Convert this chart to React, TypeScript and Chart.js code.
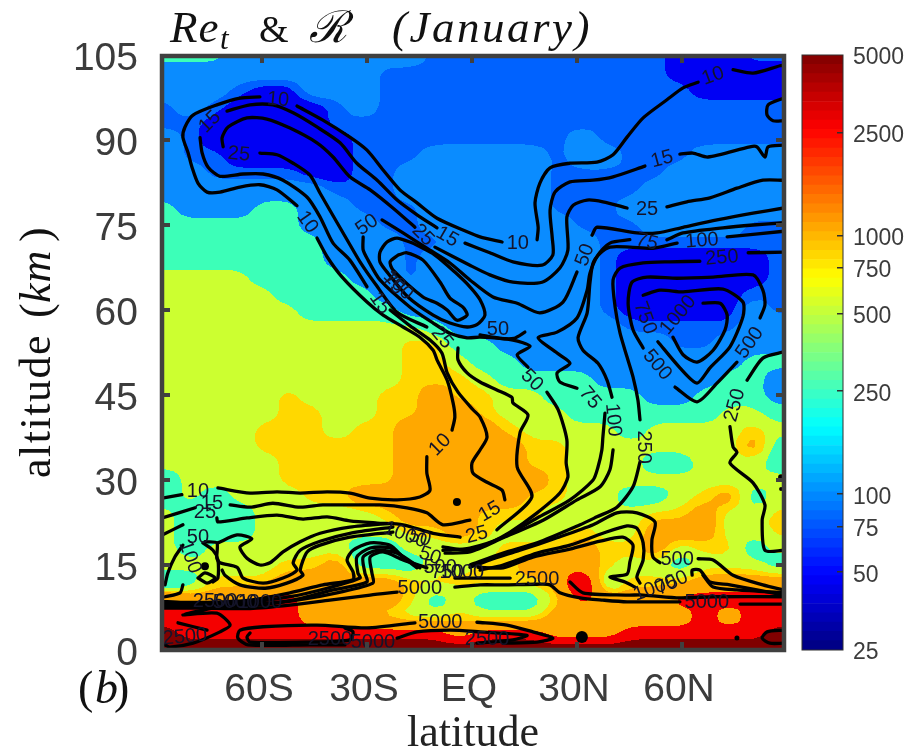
import React, { useEffect, useRef } from "react";
import { Chart, registerables } from "chart.js";
Chart.register(...registerables);

const xTickValues = [-60, -30, 0, 30, 60];
const xTickLabels = ["60S", "30S", "EQ", "30N", "60N"];
const cbTicks = [25, 50, 75, 100, 250, 500, 750, 1000, 2500, 5000];
const bandEdges = [25, 50, 75, 100, 250, 500, 750, 1000, 2500, 5000];
const bandColors = ["#000090", "#0000f4", "#0062ff", "#0a8cff", "#3cffb8", "#ccff30", "#ffd800", "#ffa800", "#f40000", "#800000"];

const gridLats = [-87.5, -80.5, -73.5, -66.5, -59.5, -52.5, -45.5, -38.5, -31.5, -24.5, -17.5, -10.5, -3.5, 3.5, 10.5, 17.5, 24.5, 31.5, 38.5, 45.5, 52.5, 59.5, 66.5, 73.5, 80.5, 87.5];
const gridAlts = [105, 102, 99, 96, 93, 90, 87, 84, 81, 78, 75, 72, 69, 66, 63, 60, 57, 54, 51, 48, 45, 42, 39, 36, 33, 30, 27, 24, 21, 18, 15, 12, 9, 6, 3, 0];
const reField = [
[350,350,350,150,150,150,150,150,150,150,150,85,85,85,85,85,85,85,85,85,85,60,60,60,85,85],
[150,150,150,150,150,150,150,150,150,85,85,85,85,85,85,85,85,85,85,85,85,60,60,60,60,60],
[150,150,150,85,60,60,150,150,150,85,85,85,85,85,85,85,85,85,85,85,85,85,60,60,60,60],
[85,150,85,60,60,60,60,85,150,85,85,85,85,85,85,85,85,85,85,85,85,85,85,85,85,85],
[85,85,60,60,60,60,60,85,85,85,85,85,85,85,85,85,85,85,85,85,85,85,85,85,85,85],
[150,85,60,60,60,60,60,60,85,85,85,85,85,85,85,85,85,150,85,85,85,85,85,85,85,85],
[150,85,85,60,60,60,60,60,85,85,85,150,150,150,150,150,85,150,150,85,85,85,150,150,150,150],
[150,150,85,85,85,85,60,60,85,85,150,150,150,150,150,150,85,85,85,85,85,150,150,150,150,150],
[150,150,150,150,150,150,150,85,85,85,150,150,150,150,150,150,85,85,85,85,150,150,150,150,150,150],
[350,150,150,150,350,350,150,150,85,85,85,150,150,150,150,150,85,85,85,150,150,150,150,150,150,150],
[350,350,350,350,350,350,150,150,150,85,85,150,150,150,150,150,150,85,85,85,150,150,150,150,85,85],
[350,350,350,350,350,350,350,150,150,150,85,85,150,150,150,150,150,150,85,85,85,85,85,85,85,85],
[350,350,350,350,350,350,350,150,150,150,85,150,150,150,150,150,150,150,85,60,60,60,60,60,60,85],
[600,600,600,600,350,350,350,350,150,150,85,150,150,150,150,150,150,150,85,60,60,60,60,60,60,85],
[600,600,600,600,600,350,350,350,350,150,150,150,150,150,150,150,150,150,85,60,60,60,60,60,85,85],
[600,600,600,600,600,600,350,350,350,350,150,150,150,150,150,150,150,150,85,60,60,60,60,60,150,85],
[600,600,600,600,600,600,600,600,600,600,600,350,150,150,150,150,150,150,150,85,85,85,85,85,150,150],
[600,600,600,600,600,600,600,600,600,600,850,850,350,350,150,150,150,150,150,150,150,85,85,150,150,150],
[600,600,600,600,600,600,600,600,600,600,850,850,600,350,350,150,150,150,150,150,150,150,150,150,350,350],
[600,600,600,600,600,600,600,600,600,600,850,850,850,600,350,350,350,350,150,150,150,150,150,350,350,150],
[600,600,600,600,600,850,600,600,600,850,850,1500,850,850,600,600,350,350,350,350,150,150,350,350,350,150],
[600,600,600,600,600,850,850,600,600,850,850,1500,1500,850,600,600,600,350,350,350,350,350,350,600,600,350],
[600,600,600,600,850,850,850,600,850,850,1500,1500,1500,1500,850,600,600,600,600,350,600,600,600,600,850,600],
[600,600,600,600,850,850,850,850,850,850,1500,1500,1500,1500,1500,850,850,600,600,600,600,600,850,600,1500,350],
[600,600,600,600,600,850,850,850,850,850,1500,1500,1500,1500,1500,850,850,600,600,600,350,350,600,600,600,350],
[350,600,600,600,600,850,850,850,850,850,1500,1500,1500,1500,1500,1500,850,600,600,600,600,600,600,600,600,600],
[350,600,350,600,600,600,850,850,1500,1500,1500,1500,1500,1500,1500,850,850,600,600,350,350,600,850,1500,350,600],
[600,350,350,350,600,600,600,600,600,850,1500,1500,1500,850,850,850,600,600,600,600,850,850,1500,600,600,850],
[600,350,350,350,600,600,600,600,600,600,850,850,1500,850,600,600,600,850,600,600,1500,1500,1500,600,600,850],
[600,350,600,600,600,600,600,600,350,350,600,600,600,600,850,850,850,1500,850,850,1500,600,850,850,350,600],
[850,600,600,600,600,850,850,1500,350,350,350,600,600,850,850,1500,1500,1500,850,600,600,350,600,600,600,350],
[150,350,850,850,850,1500,1500,1500,1500,1500,850,850,850,850,850,850,1500,9000,350,850,850,850,1500,1500,1500,1500],
[3500,1500,1500,1500,3500,3500,1500,1500,3500,1500,850,350,600,350,350,350,850,3500,1500,1500,1500,3500,3500,3500,3500,3500],
[3500,3500,3500,3500,3500,3500,1500,1500,850,850,600,600,850,600,600,600,1500,1500,1500,1500,1500,1500,3500,1500,3500,3500],
[6500,3500,3500,3500,3500,3500,3500,3500,3500,3500,3500,3500,1500,3500,3500,3500,1500,1500,1500,3500,3500,3500,3500,3500,3500,6500],
[9000,9000,9000,9000,9000,9000,9000,9000,9000,9000,9000,9000,9000,9000,9000,9000,9000,9000,9000,9000,9000,9000,9000,9000,9000,9000],
];

type P = number[];
const c10a: P[] = [[-60.6,97.6],[-66.3,97.4],[-72.9,96.2],[-79.7,94.4],[-82,92.3],[-82.6,90.5],[-81.1,87.7],[-80,85.2],[-78.3,82.4],[-75.7,80.8],[-72,80.8],[-66.3,81.7],[-60.6,82.1],[-55.7,81.2],[-50,78.4]];
const c10b: P[] = [[-44.3,72.7],[-41.4,69.4],[-37.1,65.8],[-30,61.4],[-25.4,59.1],[-19.7,57],[-14.9,55.2],[-11.1,52.9],[-10,51.2],[-7.1,47.6],[-5.4,43.6],[-4.9,41.1],[-5.7,38.8]];
const c10c: P[] = [[-12.9,34.1],[-12.9,31.2],[-12,28.2],[-14.9,27],[-21.4,26.5],[-29.1,26.8],[-34.9,27.7],[-41.4,27.9],[-49.1,27.7],[-55.7,27.9],[-63.4,27.7],[-72.6,28.6]];
const c10d: P[] = [[-82.9,27.4],[-88.5,26.8]];
const c10e: P[] = [[-50,96],[-42.6,93.5],[-34.9,90.5],[-30,88.2],[-25.4,84.7],[-20.6,81.2],[-15.7,78.9],[-10,76.2],[-1.4,73.8],[2.3,72.9],[8.6,72]];
const c10f: P[] = [[18.6,72.4],[18.9,74.6],[18,78.9],[19.4,82.4],[22.3,85.1],[28,85.9],[35.7,86.1],[40.3,87.4],[44.3,90.5],[48.9,93.9],[55.7,97.1],[60.3,99.2],[64.6,100.2]];
const c10g: P[] = [[74.6,102.4],[80.3,101.8],[88,103.1],[89.1,103.2]];
const c10h: P[] = [[89.1,97.4],[84.6,96.2],[84.3,94.4],[86,93.4],[89.1,93.4]];
const c15a: P[] = [[-70,95.1],[-63.4,96.2],[-56.9,96.2],[-51.1,94.8],[-44.3,92.3],[-37.7,89.5],[-32.9,85.9],[-27.1,82.9],[-21.4,79.4],[-15.7,76.8],[-10,74.5]];
const c15b: P[] = [[-2,71.8],[5.1,70.1],[11.7,68.5],[20,67.9],[23.1,69.7],[22.9,72.9],[22.3,77.6],[23.7,80.8],[28,82.6],[34.6,82.9],[40.3,83.5],[49.4,85.4]];
const c15c: P[] = [[59.4,87.5],[63.1,87.7],[67.4,87],[79.4,88.8],[81.4,88.8],[83.7,87],[84.6,88.8],[89.1,89.1]];
const c15d: P[] = [[-77.7,90.4],[-77.1,87.7],[-75.4,85.2],[-72,83.6],[-65.4,84],[-59.7,84],[-54,82.9],[-47.1,79.9],[-43.4,76.4],[-39.7,71.8],[-34.9,68.8],[-30,64.1]];
const c15e: P[] = [[-23.4,60],[-17.7,57.2],[-12,54.7],[-8.6,52.4],[-7.1,48.9],[-4,45.5],[0.3,42.4],[2.3,41.1],[4.3,37.6],[2.3,35.3],[0,33],[0.3,31.2],[4.3,29.6],[8.6,28.2],[9.4,26.5]];
const c15f: P[] = [[-0.6,22.9],[-8.3,22.1],[-12.9,24.2],[-18.6,25.1],[-26.3,25.6],[-34.9,25.6],[-42.6,25.6],[-49.1,25.2],[-56.9,25.9],[-63.4,25.2],[-69.1,25.6]];
const c15g: P[] = [[-79.1,25.1],[-88.5,23.3]];
const c25a: P[] = [[-71.1,88.8],[-71.4,90.4],[-69.7,92.3],[-64.3,93.9],[-58.6,93.7],[-52,92.1],[-44.3,89.5],[-39.7,87],[-34.9,83.5],[-29.1,81.2],[-22.6,78],[-16.3,74.6]];
const c25b: P[] = [[-10.6,71.1],[-0.6,67.9],[5.1,66.2],[11.7,64.9],[20,64.9],[25.1,67.4],[27.4,70.6],[27.1,76.4],[28.9,78.5],[32.9,79.4],[37.4,79.1],[44.3,78]];
const c25c: P[] = [[55.7,78.2],[61.4,79.1],[68,79.8],[75.7,81.5],[83.1,82.9],[89.1,82.9]];
const c25d: P[] = [[-60.6,87.7],[-55.7,87.4],[-51.1,85.9],[-46.3,83.8],[-43.4,80.6],[-40.6,77.6],[-35.7,72.4],[-32,68.5],[-27.5,64.5],[-21.4,59.6],[-12.9,57]];
const c25e: P[] = [[-4,53.3],[-4,51.2],[-1.4,48.9],[2.3,47.3],[7.1,45.9],[11.4,44.6],[11.7,43.6],[16,41.5],[13.7,38.3],[12.9,32.3],[17.1,27],[7.1,21.2]];
const c25f: P[] = [[-3.4,19.9],[-11.1,20.6],[-19.7,22.1],[-27.1,22.4],[-34.9,22.8],[-41.4,23.5],[-48.3,23.1],[-55.7,23.8],[-64.3,23.3],[-72.6,22.6],[-72.9,23.3]];
const c25g: P[] = [[-82.6,22.1],[-88.5,20.3]];
const c50a: P[] = [[34.3,73.2],[35.7,74.6],[47.1,73.6],[52.9,73.6],[60.3,74.6],[70,75.9],[80.3,77.1],[89.1,78]];
const c50b: P[] = [[-25.7,75.9],[-19.7,73.6],[-12.9,70.9],[-6.3,68.3],[-0.6,65.3],[6,62.3],[12.9,61.2],[19.4,59.5],[26,61.4],[30,66.7]];
const c50c: P[] = [[-31.1,72.9],[-31.1,70.6],[-29.7,68.8],[-26.3,65.3],[-17.7,60.5],[-11.1,57.7],[-6.3,55.9],[-1.4,55.1],[2.3,55.2],[11.7,54.7],[16.6,53.6],[12.9,52.1],[16,49.9]];
const c50d: P[] = [[2.3,55.6],[8,55],[12,55],[15.1,56.1]];
const c50e: P[] = [[21.4,45.5],[24.6,42.4],[27.1,37.1],[26.9,33],[27.4,30.5],[25.1,27.7],[18.6,24.2],[10.9,20.8],[5.1,18.9],[-0.6,17.6],[-8.3,18.2]];
const c50f: P[] = [[-22.6,22.4],[-34.9,21.7],[-43.4,20.6],[-49.1,19.1],[-54,17.3],[-57.7,15.4],[-60.6,15],[-64.3,16.2],[-66.3,18.2],[-62.9,19.6],[-67.1,20.3],[-72.6,18.9]];
const c50g: P[] = [[-82.6,18.5],[-84.9,16.4],[-86.9,13.6],[-87.7,11.5]];
const c75a: P[] = [[45.1,72.4],[39.4,71.8],[36,69.7],[33.7,66.5],[32.9,63.5],[30,58.6],[24.3,56.1],[18.9,55.1],[24.3,52.4],[28,50.6],[24.3,48.9],[25.1,47.3],[30,46.2]];
const c75b: P[] = [[38,41.8],[37.4,37.6],[37.1,35.3],[36,32.3],[34.6,30],[28,26.5],[18.6,23.3],[8.9,19.9],[-0.6,18],[-8.3,17.6]];
const c75c: P[] = [[55.7,72.4],[60.3,73.6],[71.7,74.5],[80.3,75],[89.1,75.4]];
const c75d: P[] = [[-16.9,71.8],[-21.4,72.7],[-24.3,72],[-26.3,70.2],[-26.3,68.5],[-24,66.5],[-18.3,62.3],[-11.1,59.1],[-6.3,57.7],[-1.4,57],[1.4,57.4],[3.7,59.1],[2.3,61.8],[-0.6,64.1],[-4.9,66.7],[-10.6,69.7],[-16.9,71.8]];
const c100a: P[] = [[-21.1,69.7],[-23.4,68.5],[-22.6,67.1],[-14,62.3],[-10,61.2],[-7.1,60],[-4.3,58.2],[-1.4,59.1],[-2.6,60.5],[-6.3,62.1],[-9.1,64.9],[-14,68.8],[-18.6,70.1],[-21.1,69.7]];
const c100b: P[] = [[58.6,71.8],[51.7,70.9],[45.1,71.1],[39.4,71.1],[36.6,70],[34.6,68.3],[33.7,64.8],[32.9,59.5],[30.3,55.1],[31.7,52.9],[36,50.6],[38.6,47.6],[40,44.6]];
const c100c: P[] = [[40.3,35.3],[39.4,31.8],[36.6,28.8],[30,26.5],[20.3,22.9],[8.9,19.8],[-0.6,17.3],[-7.7,17.1]];
const c100d: P[] = [[72.9,72.9],[89.1,73.9]];
const c100e: P[] = [[-22.6,21.7],[-34.9,20.6],[-43.4,19.2],[-49.1,17.6],[-51.1,15.4],[-50,14.1],[-54,12.7],[-59.7,11.8],[-65.4,12.7],[-67.1,14.6],[-72,15.4],[-72.9,16.2],[-72.9,18.9],[-76.3,19.1]];
const c100f: P[] = [[-76.9,18.9],[-74,17.6],[-72.6,15.9],[-72.6,12.7],[-74,12]];
const c250a: P[] = [[65.1,68.6],[56.6,68.5],[48.9,68.3],[42.3,67.4],[40.3,65.3],[40.9,60.5],[42.3,55.9],[44.3,51.7],[46,48.2],[47.4,44.1],[48,40.6]];
const c250b: P[] = [[48,33.2],[46,28.8],[41.4,25.2],[35.7,23.5],[30.9,22.1],[18.6,18.9],[8.9,17.1],[-0.6,15]];
const c250c: P[] = [[78.9,70.1],[89.1,70.2]];
const c250d: P[] = [[89.1,52.6],[83.1,51.5],[78.6,47.6]];
const c250e: P[] = [[73.7,39.4],[74.6,35.8],[75.7,34.9],[73.7,33],[80.3,29.5],[83.7,25.6],[82.9,22.9],[83.7,17.6],[89.1,17.6]];
const c250f: P[] = [[-22.6,20.8],[-34.9,19.9],[-43.4,18.5],[-47.1,17.3],[-49.1,14.1],[-48.3,13.2],[-52.9,11.8],[-59.1,10.9],[-66.3,11.5],[-70.6,13.2],[-71.4,14.1]];
const c500a: P[] = [[48.9,53.3],[46,56.5],[44.6,61.2],[45.7,64.9],[50,65.8],[58.6,65.6],[68.9,65.8],[80.3,66.2],[83.1,63.5],[83.7,60.9],[82.3,58.6]];
const c500b: P[] = [[75.7,50.8],[70,47.1],[64.3,43.8],[58,46.4]];
const c500c: P[] = [[53.7,15.4],[51.7,16.4],[51.4,19.4],[52.3,22.6],[47.1,24.2],[41.4,24.2],[34.6,22.1],[24.3,19.8],[13.7,17.6],[5.1,15.9],[-0.6,14.6]];
const c500d: P[] = [[64.6,16.1],[68.9,15.9],[74.6,13.2],[83.1,11.5],[89.1,10.6]];
const c500e: P[] = [[-15.7,14.5],[-19.7,16.4],[-23.4,18.5],[-29.1,18.9],[-34,17.6],[-35.7,15.9],[-34,13.8],[-34,12.4],[-42.6,11.5],[-52,10.1],[-63.4,8.8],[-71.1,8.5],[-82.6,8.4],[-88.8,8.6]];
const c750a: P[] = [[48.9,62.6],[53.7,63.5],[60.3,63.2],[71.7,63.7],[77.4,61.4],[77.4,58.8],[73.7,53.5],[68,49.8],[64.3,47.1],[59.4,49.8],[53.1,54.4]];
const c750b: P[] = [[46.6,11.1],[43.7,12],[39.4,12.9],[44.3,13.4],[45.1,15.5],[46,18.5],[43.1,19.9],[36.6,19.2],[28,17.8],[17.4,16.4],[8.9,14.5],[1.7,14.6]];
const c750c: P[] = [[66,13.2],[68.9,11.1],[75.7,10.6],[89.1,10.1]];
const c750d: P[] = [[-18.6,15.9],[-23.4,18],[-29.1,18],[-32.9,16.4],[-32.6,13.6],[-32,12.7],[-41.4,10.9],[-52,9.4],[-63.4,8.5],[-88.8,8.3]];
const c1000a: P[] = [[66,61.2],[70.9,61.2],[72.9,59.1],[72.3,56.5],[68.9,52.9],[64.3,50.8],[60.3,52.1],[57.4,55.2]];
const c1000b: P[] = [[48,11.8],[47.1,12.9],[48.9,15.9],[48.9,18.9],[47.1,21.5],[44.3,21.9],[37.4,20.6],[28,18.5],[18.6,17.1],[8.9,15],[2.3,14.1]];
const c1000c: P[] = [[62.9,13.2],[62.9,14.1],[65.1,14.1],[68,12],[73.7,11.5],[89.1,9.7]];
const c1000d: P[] = [[-14.9,14.5],[-21.4,17.1],[-27.1,17.6],[-31.1,16.4],[-30.6,13.6],[-30,12],[-39.7,10.6],[-51.1,8.8],[-63.4,8.1],[-88.8,8]];
const c2500a: P[] = [[10.9,12.7],[2.3,12.7],[-4.9,12.7]];
const c2500b: P[] = [[28,12],[31.7,10.1],[44.3,9.7],[48.9,9.7],[59.4,9.2],[68.9,9.4],[89.1,9.4]];
const c2500c: P[] = [[-12.9,14.5],[-19.7,15.9],[-25.4,17.3],[-29.1,16.4],[-28.6,13.6],[-28.3,11.8],[-38.6,10.1],[-50,8.8],[-63.4,7.8],[-88.8,7.7]];
const c2500d: P[] = [[-63.4,3],[-64.3,2.3],[-63.4,1.4],[-46.3,1.4],[-34.9,1.8],[-34,3.2],[-36.3,3.9]];
const c2500e: P[] = [[-21.4,2.1],[-15.7,3.2],[-6.3,3.5],[2.3,3.2],[15.7,2.6],[11.7,1.8],[1.4,1.2]];
const c2500f: P[] = [[-60,8],[-72,7.6],[-82.6,6.2],[-72.9,6.5],[-69.1,4.4],[-72,3.2],[-79.7,1.2],[-86.3,0.5],[-87.7,0.9]];
const c2500g: P[] = [[-84,4.8],[-75.7,3.5]];
const c5000a: P[] = [[-21.4,10.2],[-29.1,9.7],[-40.6,8.8],[-52,7.9],[-63.4,7.3],[-77.7,7.4],[-88.8,7.4]];
const c5000b: P[] = [[-4.9,11.1],[2.3,11.5],[8.9,11.5],[18.6,11.6],[22.3,11.5],[25.1,10.1],[30.9,9.2],[37.4,8.8],[44.3,8.5],[59.4,8.5]];
const c5000c: P[] = [[76.6,8.1],[89.1,8.1]];
const c5000d: P[] = [[-36.3,0.9],[-46.3,0.9],[-64,0.9],[-66.9,2.1],[-66.3,3.5],[-59.7,4.1],[-44.3,4.4],[-30,3.9],[-16.3,4.8]];
const c5000e: P[] = [[1.4,4.9],[10,4.4],[17.4,3.2],[23.1,2.1],[18.6,1.4],[8.9,1.2]];
const c5000f: P[] = [[89.1,3.5],[84.3,3.2],[82.9,2.1],[85.1,1.2],[89.1,1.2]];
const c75e: P[] = [[-78.3,12.7],[-76.3,13.6],[-73.4,12.7],[-75.7,11.8],[-78.3,12.7]];
const c75f: P[] = [[-87.7,9.4],[-83.4,10.1],[-82.6,11.5]];

const contours: P[][] = [c10a,c10b,c10c,c10d,c10e,c10f,c10g,c10h,c15a,c15b,c15c,c15d,c15e,c15f,c15g,c25a,c25b,c25c,c25d,c25e,c25f,c25g,c50a,c50b,c50c,c50d,c50e,c50f,c50g,c75a,c75b,c75c,c75d,c75e,c75f,c100a,c100b,c100c,c100d,c100e,c100f,c250a,c250b,c250c,c250d,c250e,c250f,c500a,c500b,c500c,c500d,c500e,c750a,c750b,c750c,c750d,c1000a,c1000b,c1000c,c1000d,c2500a,c2500b,c2500c,c2500d,c2500e,c2500f,c2500g,c5000a,c5000b,c5000c,c5000d,c5000e,c5000f];

const blobLats = [-4.3, 31.4, 75.7, -76.3, 88.3, 88.3];
const blobAlts = [26.1, 2.3, 2.1, 14.8, 30.5, 28.4];
const blobSizes = [4, 6, 2.5, 4, 3, 2];

// text, latitude, altitude, rotation in degrees
const contourLabels: [string, number, number, number][] = [
["10",-55.4,97.1,5],["15",-74.9,93.2,-45],["25",-66.6,87.5,5],["10",-47.1,75.5,55],["50",-30,75,-35],["25",-14,73.2,45],["15",-7.1,72.9,30],["10",13.1,71.8,0],
["15",54.3,86.6,-15],["25",50,77.8,0],["10",68.9,101.3,-20],["75",50,72,15],["100",65.7,72.2,-5],["250",71.4,69.2,-5],["50",32.3,69.7,-70],["50",7.4,56.5,0],
["100",-21.1,64.4,45],["75",-22.6,64.6,45],["15",-26.3,61.2,55],["25",-8.6,55.1,50],["10",-9.1,36.2,-45],["50",17.1,47.6,45],["75",33.7,44.5,50],["100",40.3,40.6,85],
["250",48.9,35.8,90],["750",49.4,58.6,70],["500",52.9,50.3,50],["1000",58.9,59.1,-50],["500",79.4,54.2,-55],["250",75.1,43.2,-75],["15",5.1,24.4,-30],["25",1.4,20.3,-15],
["10",-78.3,27.9,0],["15",-74.3,25.9,0],["25",-76.3,24.2,0],["50",-78.3,19.8,0],["100",-80.6,16.4,70],["1000",-19.1,20.3,20],["50",-14.9,19.8,15],["50",-12,16.6,20],
["500",-9.1,14.6,0],["750",-7.1,13.6,0],["1000",-2.9,13.6,0],["2500",18.6,12.5,0],["5000",-14.9,10.9,0],["5000",-9.1,4.9,0],["500",58.6,15.9,0],["1000",52.3,10.9,-20],
["750",57.1,11.8,-25],["5000",67.1,8.3,0],["2500",-82,2.3,-5],["2500",-40.6,1.8,0],["5000",-28.3,1.4,0],["2500",4.3,1.8,0],["2500",-73.4,8.6,0],["5000",-67.7,8.3,0],["1000",-60.6,8.3,0],
];

const FRAME = "#404040";
const logField = reField.map((r) => r.map((v) => Math.log(v)));

function bilinear(fx0: number, fy0: number): number {
  const fx = Math.max(0, Math.min(gridLats.length - 1.001, fx0));
  const fy = Math.max(0, Math.min(gridAlts.length - 1.001, fy0));
  const i = Math.floor(fx), j = Math.floor(fy);
  const u = fx - i, v = fy - j;
  const a = logField[j][i], b = logField[j][i + 1];
  const c = logField[j + 1][i], d = logField[j + 1][i + 1];
  return (a * (1 - u) + b * u) * (1 - v) + (c * (1 - u) + d * u) * v;
}
function fieldAt(lat: number, alt: number): number {
  const fx = (lat - gridLats[0]) / 7;
  const fy = (105 - alt) / 3;
  const r = 0.33;
  const s =
    2 * bilinear(fx, fy) +
    bilinear(fx - r, fy - r) + bilinear(fx + r, fy - r) +
    bilinear(fx - r, fy + r) + bilinear(fx + r, fy + r);
  return Math.exp(s / 6);
}
function bandColor(val: number): string {
  let k = 0;
  for (let n = 0; n < bandEdges.length; n++) if (val >= bandEdges[n]) k = n;
  return bandColors[k];
}
function textAt(ctx: any, s: string, x: number, y: number, font: string, spacing = 0) {
  ctx.font = font;
  ctx.letterSpacing = spacing + "px";
  ctx.fillText(s, x, y);
  ctx.letterSpacing = "0px";
}

const fieldPlugin = {
  id: "field",
  beforeDatasetsDraw(chart: any) {
    const { ctx, chartArea: a, scales } = chart;
    const right = a.right - 3;
    ctx.save();
    for (let py = Math.floor(a.top); py < a.bottom; py++) {
      const alt = scales.y.getValueForPixel(py + 0.5);
      let start = Math.floor(a.left), cur = "";
      for (let px = Math.floor(a.left); px <= right; px++) {
        const col = bandColor(fieldAt(scales.x.getValueForPixel(px + 0.5), alt));
        if (col !== cur || px >= right) {
          if (cur) { ctx.fillStyle = cur; ctx.fillRect(start, py, px - start + (px >= right ? 1 : 0), 1); }
          cur = col; start = px;
        }
      }
    }
    ctx.restore();
  },
  afterDatasetsDraw(chart: any) {
    const { ctx, chartArea: a, scales } = chart;
    ctx.save();
    // contour labels
    ctx.fillStyle = "#14142a";
    ctx.textAlign = "center";
    ctx.textBaseline = "middle";
    ctx.font = "20px 'Liberation Sans'";
    for (const [s, lat, alt, rot] of contourLabels) {
      ctx.save();
      ctx.translate(scales.x.getPixelForValue(lat), scales.y.getPixelForValue(alt));
      ctx.rotate((rot * Math.PI) / 180);
      ctx.fillText(s, 0, 0);
      ctx.restore();
    }
    // frame and inward ticks
    ctx.strokeStyle = FRAME;
    ctx.lineWidth = 4.5;
    ctx.strokeRect(a.left, a.top + 1, a.right - a.left, a.bottom - a.top - 1);
    ctx.fillStyle = FRAME;
    for (const v of xTickValues) {
      const x = scales.x.getPixelForValue(v);
      ctx.fillRect(x - 2, a.bottom - 8, 4, 8);
      ctx.fillRect(x - 2, a.top, 4, 8);
    }
    for (let v = 15; v < 105; v += 15) {
      const y = scales.y.getPixelForValue(v);
      ctx.fillRect(a.left, y - 2, 8, 4);
      ctx.fillRect(a.right - 8, y - 2, 8, 4);
    }
    // math-style texts
    ctx.fillStyle = "#111";
    ctx.textAlign = "left";
    ctx.textBaseline = "alphabetic";
    textAt(ctx, "Re", 170, 42, "italic 45px 'Liberation Serif'", 1);
    textAt(ctx, "t", 220, 49, "italic 31px 'Liberation Serif'");
    textAt(ctx, "&", 259, 42, "38px 'Liberation Serif'");
    textAt(ctx, "\u211B", 309, 42, "italic 44px 'DejaVu Serif'");
    textAt(ctx, "(January)", 392, 42, "italic 45px 'Liberation Serif'", 2.5);
    textAt(ctx, "(", 78, 703, "46px 'Liberation Serif'");
    textAt(ctx, "b", 95, 703, "italic 46px 'Liberation Serif'");
    textAt(ctx, ")", 114, 703, "46px 'Liberation Serif'");
    ctx.translate(50, 478);
    ctx.rotate(-Math.PI / 2);
    textAt(ctx, "altitude", 0, 0, "44px 'Liberation Serif'", 1.5);
    textAt(ctx, "(", 160, 0, "44px 'Liberation Serif'");
    textAt(ctx, "km", 175, 0, "italic 44px 'Liberation Serif'", 1);
    textAt(ctx, ")", 236, 0, "44px 'Liberation Serif'");
    ctx.restore();
  },
};

const barFramePlugin = {
  id: "barFrame",
  afterDatasetsDraw(chart: any) {
    const { ctx, chartArea: a, scales } = chart;
    ctx.save();
    ctx.strokeStyle = "#303030";
    ctx.lineWidth = 1;
    ctx.strokeRect(a.left, a.top, a.right - a.left, a.bottom - a.top);
    ctx.fillStyle = "#303030";
    for (const t of cbTicks.slice(1, -1)) {
      ctx.fillRect(a.right - 6, Math.round(scales.y.getPixelForValue(t)) - 1, 6, 1.5);
    }
    ctx.restore();
  },
};

const JET = (v: number) => {
  const c = (x: number) => Math.round(255 * Math.max(0, Math.min(1, 1.5 - Math.abs(x))));
  return `rgb(${c(4 * v - 3)},${c(4 * v - 2)},${c(4 * v - 1)})`;
};
const STEPS = 64;
const cbDatasets = Array.from({ length: STEPS }, (_, i) => ({
  data: [[25 * Math.pow(200, i / STEPS), 25 * Math.pow(200, (i + 1) / STEPS)]],
  backgroundColor: JET((i + 0.5) / STEPS),
  barPercentage: 1,
  categoryPercentage: 1,
  grouped: false,
}));

export default function App() {
  const mainRef = useRef<HTMLCanvasElement>(null);
  const barRef = useRef<HTMLCanvasElement>(null);
  useEffect(() => {
    const datasets: any[] = contours.map((c) => ({
      data: c.map(([x, y]) => ({ x, y })),
      showLine: true,
      borderColor: "#000",
      borderWidth: 3.3,
      pointRadius: 0,
      tension: 0.25,
      borderCapStyle: "round",
      borderJoinStyle: "round",
    }));
    datasets.push({
      data: blobLats.map((x, i) => ({ x, y: blobAlts[i] })),
      showLine: false,
      pointRadius: blobSizes,
      pointBackgroundColor: "#000",
      pointBorderWidth: 0,
    });
    const main = new Chart(mainRef.current as any, {
      type: "scatter",
      data: { datasets },
      plugins: [fieldPlugin as any],
      options: {
        responsive: false,
        animation: false,
        layout: { padding: { top: 55, right: 134, left: 0, bottom: 0 } },
        plugins: { legend: { display: false }, tooltip: { enabled: false } },
        scales: {
          x: {
            type: "linear",
            min: -88.57,
            max: 89.14,
            grid: { display: false },
            border: { display: false },
            afterBuildTicks: (s: any) => { s.ticks = xTickValues.map((value) => ({ value })); },
            afterFit: (s: any) => { s.height = 102; },
            ticks: {
              autoSkip: false,
              maxRotation: 0,
              padding: 9,
              labelOffset: -3,
              color: "#3c3c3c",
              font: { family: "'Liberation Sans'", size: 39 },
              callback: (v: any) => xTickLabels[xTickValues.indexOf(Number(v))] ?? "",
            },
            title: { display: true, text: "latitude", color: "#222", padding: 0, font: { family: "'Liberation Serif'", size: 44, lineHeight: 0.8 } },
          },
          y: {
            type: "linear",
            min: 0,
            max: 105,
            grid: { display: false },
            border: { display: false },
            afterFit: (s: any) => { s.width = 162; },
            ticks: {
              stepSize: 15,
              padding: 16,
              labelOffset: 4,
              color: "#3c3c3c",
              font: { family: "'Liberation Sans'", size: 39 },
            },
          },
        },
      } as any,
    });
    const bar = new Chart(barRef.current as any, {
      type: "bar",
      data: { labels: ["Re"], datasets: cbDatasets as any },
      plugins: [barFramePlugin as any],
      options: {
        responsive: false,
        animation: false,
        layout: { padding: { top: 55, left: 12, right: 0, bottom: 102 } },
        plugins: { legend: { display: false }, tooltip: { enabled: false } },
        scales: {
          x: { display: false },
          y: {
            type: "logarithmic",
            position: "right",
            min: 25,
            max: 5000,
            grid: { display: false, drawTicks: false },
            border: { display: false },
            afterBuildTicks: (s: any) => { s.ticks = cbTicks.map((value) => ({ value })); },
            afterFit: (s: any) => { s.width = 75; },
            ticks: {
              autoSkip: false,
              padding: 10,
              labelOffset: 3,
              color: "#3c3c3c",
              font: { family: "'Liberation Sans'", size: 23 },
              callback: (v: any) => String(v),
            },
          },
        },
      } as any,
    });
    return () => { main.destroy(); bar.destroy(); };
  }, []);
  return (
    <div style={{ position: "absolute", left: 0, top: 0, width: 918, height: 752, background: "#fff", overflow: "hidden" }}>
      <canvas ref={mainRef} width={918} height={752} style={{ position: "absolute", left: 0, top: 0 }} />
      <canvas ref={barRef} width={128} height={752} style={{ position: "absolute", left: 790, top: 0 }} />
    </div>
  );
}
